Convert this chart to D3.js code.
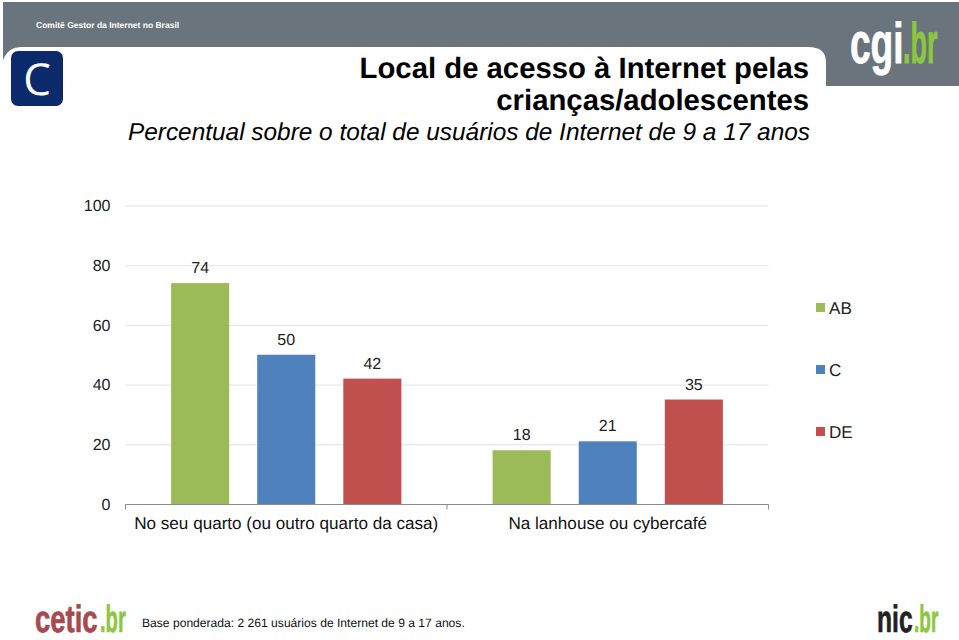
<!DOCTYPE html>
<html><head><meta charset="utf-8">
<script src="https://cdn.jsdelivr.net/npm/d3@7"></script>
<style>html,body{margin:0;padding:0;background:#fff}svg{display:block}text{font-family:"Liberation Sans",Arial,sans-serif;text-rendering:geometricPrecision}</style>
</head><body><div id="c"></div>
<script>
const categories = ["No seu quarto (ou outro quarto da casa)", "Na lanhouse ou cybercafé"];
const seriesNames = ["AB", "C", "DE"];
const valuesAB = [74, 18];
const valuesC = [50, 21];
const valuesDE = [42, 35];
const seriesColors = ["#9bbb59", "#4f81bd", "#c0504d"];
const yTicks = [0, 20, 40, 60, 80, 100];
const allValues = [valuesAB, valuesC, valuesDE];

const svg = d3.select("#c").append("svg").attr("width", 959).attr("height", 640);

// stretched narrow logo word
function logo(parts, baseline, size, sy) {
  parts.forEach(p => {
    svg.append("text")
      .attr("transform", `translate(${p.x},${baseline}) scale(${p.sx},${sy})`)
      .attr("font-size", size).attr("font-weight", 700)
      .attr("fill", p.c).attr("stroke", p.c).attr("stroke-width", 0.5)
      .style("font-family", "'Liberation Sans Narrow','Liberation Sans'").text(p.t);
  });
}

// header
const grey = "#6a747c";
svg.append("path").attr("fill", grey)
  .attr("d", "M3,2H959V86H826V62Q826,47 808,47H22Q8,47 3,60Z");
svg.append("text").attr("x", 36).attr("y", 27.5).attr("fill", "#fff").attr("font-size", 8.5).attr("font-weight", 700).text("Comitê Gestor da Internet no Brasil");
svg.append("rect").attr("x", 11).attr("y", 51).attr("width", 52).attr("height", 55).attr("rx", 7).attr("fill", "#0b2a6b");
svg.append("text").attr("x", 37).attr("y", 95).attr("text-anchor", "middle").attr("fill", "#fff").attr("font-size", 44).style("font-family", "'Open Sans'").style("font-weight", 400).text("C");
logo([{t:"cgi", x:850, sx:1.03, c:"#fff"}, {t:".br", x:903, sx:0.75, c:"#8dc63f"}], 63, 36, 1.6);

// titles
const titleG = svg.append("g").attr("text-anchor", "end");
titleG.append("text").attr("x", 809).attr("y", 78).attr("font-size", 29.3).attr("font-weight", 700).text("Local de acesso à Internet pelas");
titleG.append("text").attr("x", 809).attr("y", 110).attr("font-size", 29.3).attr("font-weight", 700).text("crianças/adolescentes");
titleG.append("text").attr("x", 810).attr("y", 140).attr("font-size", 24.4).attr("font-style", "italic").text("Percentual sobre o total de usuários de Internet de 9 a 17 anos");

// chart
const y = d3.scaleLinear().domain([0, 100]).range([504, 205.5]);
const x0 = d3.scaleBand().domain(categories).range([125.5, 768.5]);
const x1 = d3.scaleBand().domain(seriesNames).range([0, x0.bandwidth()]).paddingInner(0.3256).paddingOuter(0.53);

const gy = svg.append("g").attr("transform", "translate(125.5,0)")
  .call(d3.axisLeft(y).tickValues(yTicks).tickSize(-643).tickPadding(15));
gy.select(".domain").remove();
gy.selectAll(".tick line").attr("stroke", "#e2e2e2").attr("stroke-width", 1);
gy.selectAll(".tick text").attr("font-size", 16).attr("fill", "#222").style("font-family", '"Liberation Sans"');

const groups = svg.selectAll(".grp").data(categories).join("g").attr("class", "grp")
  .attr("transform", d => `translate(${x0(d)},0)`);
seriesNames.forEach((s, si) => {
  groups.append("rect")
    .attr("x", x1(s)).attr("width", x1.bandwidth())
    .attr("y", (d, i) => y(allValues[si][i]))
    .attr("height", (d, i) => y(0) - y(allValues[si][i]))
    .attr("fill", seriesColors[si]);
  groups.append("text")
    .attr("x", x1(s) + x1.bandwidth() / 2)
    .attr("y", (d, i) => y(allValues[si][i]) - 10)
    .attr("text-anchor", "middle").attr("font-size", 16).attr("fill", "#222")
    .text((d, i) => allValues[si][i]);
});

const gx = svg.append("g").attr("transform", "translate(0,504.5)")
  .call(d3.axisBottom(x0).tickSize(0).tickPadding(12));
gx.select(".domain").attr("stroke", "#8c8c8c").attr("d", "M125.5,5V0H768.5V5");
gx.selectAll(".tick text").attr("font-size", 17.1).attr("fill", "#111").style("font-family", '"Liberation Sans"');
svg.append("line").attr("x1", x0.range()[0] + x0.bandwidth()).attr("x2", x0.range()[0] + x0.bandwidth())
  .attr("y1", 504.5).attr("y2", 509.5).attr("stroke", "#8c8c8c");

// legend
const legendY = d3.scalePoint().domain(seriesNames).range([308, 432]);
const lg = svg.selectAll(".lg").data(seriesNames).join("g").attr("class", "lg")
  .attr("transform", d => `translate(816,${legendY(d)})`);
lg.append("rect").attr("x", 0).attr("y", -5).attr("width", 9).attr("height", 9).attr("fill", (d, i) => seriesColors[i]);
lg.append("text").attr("x", 13).attr("y", 5.5).attr("font-size", 17.1).attr("fill", "#222").text(d => d);

// footer
logo([{t:"cetic", x:35, sx:0.98, c:"#a8484f"}, {t:".br", x:100, sx:0.72, c:"#8dc63f"}], 632, 28, 1.36);
svg.append("text").attr("x", 142).attr("y", 626.5).attr("font-size", 12.1).attr("fill", "#111").text("Base ponderada: 2 261 usuários de Internet de 9 a 17 anos.");
logo([{t:"nic", x:877, sx:0.88, c:"#222"}, {t:".br", x:914, sx:0.68, c:"#8dc63f"}], 632, 28, 1.36);
</script></body></html>
